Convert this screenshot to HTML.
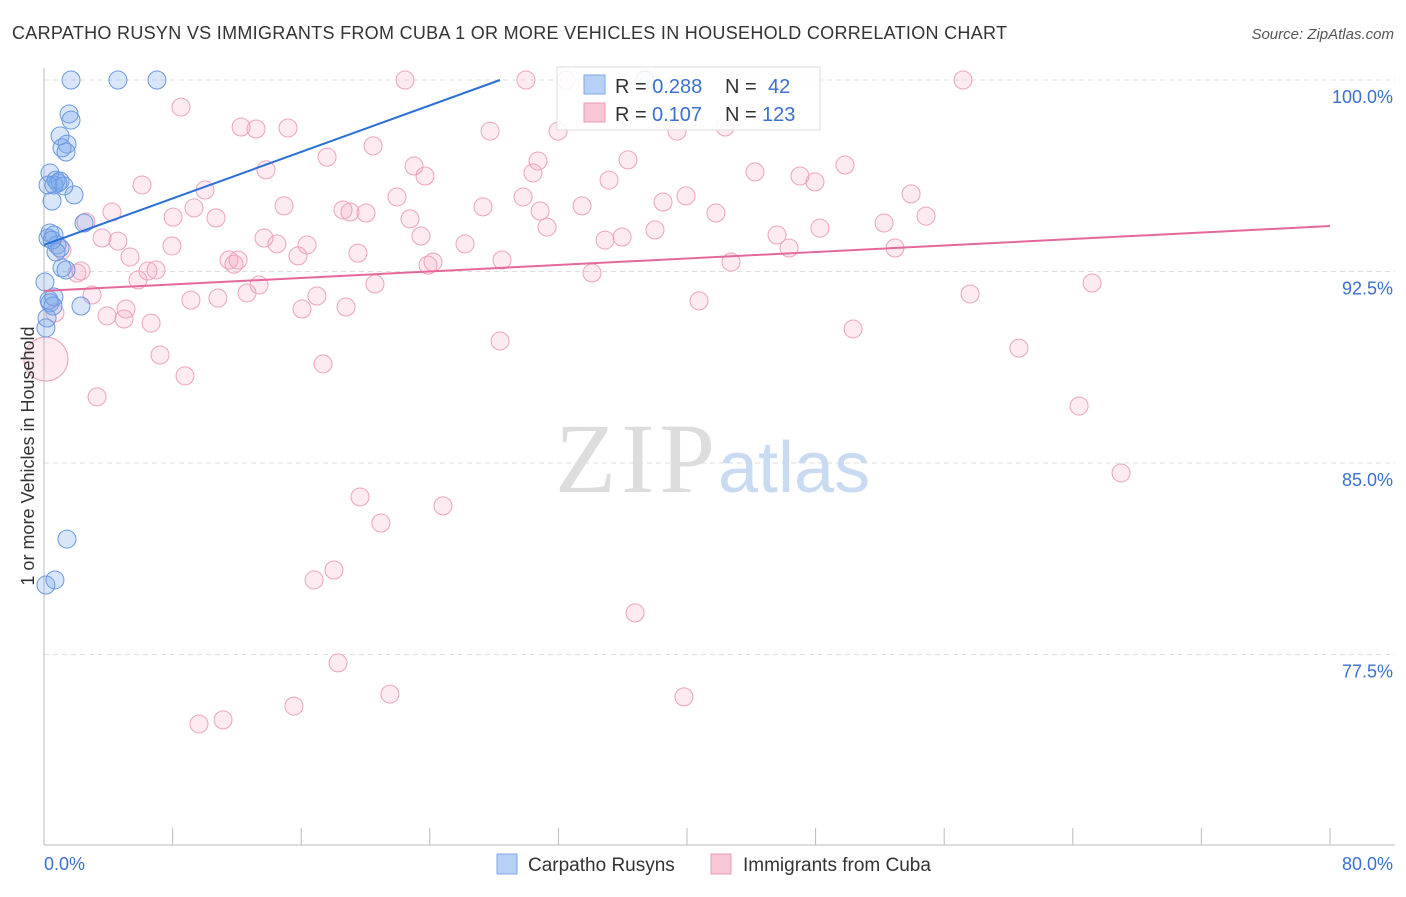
<!DOCTYPE html>
<html><head><meta charset="utf-8"><style>
body{margin:0;background:#fff;font-family:"Liberation Sans",sans-serif;}
</style></head><body>
<svg width="1406" height="892" xmlns="http://www.w3.org/2000/svg" style="font-family:'Liberation Sans',sans-serif">
<text x="12" y="39" font-size="18" fill="#333" textLength="995">CARPATHO RUSYN VS IMMIGRANTS FROM CUBA 1 OR MORE VEHICLES IN HOUSEHOLD CORRELATION CHART</text>
<text x="1394" y="39" font-size="15" fill="#555" font-style="italic" text-anchor="end">Source: ZipAtlas.com</text>
<g id="grid"></g>
<text x="555" y="492" font-size="100" fill="#ddd" font-family="Liberation Serif,serif" textLength="160">ZIP</text>
<text x="718" y="492" font-size="72" fill="#c8dbf2">atlas</text>
<g id="pts"></g>
<g id="lines"></g>
<text transform="translate(34,456) rotate(-90)" font-size="18" fill="#333" text-anchor="middle">1 or more Vehicles in Household</text>
<g>
<rect x="557" y="67" width="263" height="63" fill="rgba(255,255,255,0.85)" stroke="#ddd"/>
<rect x="584" y="75" width="21" height="19" fill="#b7d0f5" stroke="#7da6e6"/>
<rect x="584" y="103" width="21" height="19" fill="#f9c6d6" stroke="#eb9ab3"/>
<text x="615" y="93" font-size="20" fill="#333">R = <tspan fill="#3a70d0">0.288</tspan><tspan x="725">N =</tspan><tspan x="768" fill="#3a70d0">42</tspan></text>
<text x="615" y="121" font-size="20" fill="#333">R = <tspan fill="#3a70d0" x="652">0.107</tspan><tspan x="725">N =</tspan><tspan x="762" fill="#3a70d0">123</tspan></text>
</g>
<g>
<rect x="497" y="854" width="20" height="20" fill="#b7d0f5" stroke="#7da6e6"/>
<text x="528" y="871" font-size="19" fill="#333">Carpatho Rusyns</text>
<rect x="711" y="854" width="20" height="20" fill="#f9c6d6" stroke="#eb9ab3"/>
<text x="743" y="871" font-size="19" fill="#333">Immigrants from Cuba</text>
</g>
</svg>
<script>
const blueX=[1.68,4.60,7.03,37.38,1.56,1.68,1.00,1.43,1.12,1.37,0.37,0.75,0.87,0.62,1.00,1.87,0.50,2.49,0.37,0.62,0.25,0.81,1.00,0.75,1.12,1.37,0.31,0.62,0.37,0.56,2.30,0.19,0.12,0.06,1.43,0.68,0.12,0.50,0.25,1.24];
const blueY=[100,100,100,100,98.67,98.43,97.81,97.49,97.34,97.18,96.36,96.08,95.97,95.89,96.04,95.50,95.26,94.40,94.01,93.93,93.81,93.54,93.42,93.26,92.64,92.56,91.38,91.50,91.27,91.15,91.15,90.68,90.29,92.09,82.02,80.42,80.22,93.73,95.89,95.85];
const pinkX=[22.46,29.98,32.47,57.17,8.52,12.26,13.19,15.18,27.75,31.98,39.38,42.37,20.47,17.61,30.73,36.33,49.83,13.81,23.02,23.70,30.42,44.23,47.03,47.96,6.10,35.15,10.02,53.94,21.96,39.94,14.93,9.33,18.60,19.04,20.03,27.31,29.80,33.47,38.51,30.86,41.80,54.87,4.23,8.03,10.70,22.77,52.26,2.61,31.29,48.27,38.01,23.45,45.60,13.69,3.61,4.60,34.90,35.96,14.49,16.36,46.35,26.19,7.96,19.53,52.94,1.12,5.35,15.80,11.51,12.07,11.82,28.49,24.20,23.89,42.74,2.30,6.47,6.97,2.05,5.85,13.38,20.59,34.09,65.20,2.99,16.98,9.14,10.82,12.63,57.61,40.75,5.10,18.79,16.05,0.68,3.92,4.98,6.66,50.33,28.37,60.65,7.22,17.36,8.77,3.30,64.39,67.00,19.66,24.82,20.96,18.04,16.80,36.77,18.29,21.52,39.81,15.55,11.14,9.64,0.12];
const pinkY=[100,100,100,100,98.94,98.16,98.08,98.12,98.00,98.00,98.00,98.16,97.42,96.98,96.83,96.87,96.67,96.48,96.63,96.24,96.36,96.40,96.24,96.01,95.89,96.08,95.69,95.54,95.42,95.46,95.07,94.99,94.91,94.83,94.79,95.03,95.42,95.07,95.22,94.87,94.79,94.67,94.83,94.63,94.60,94.56,94.40,94.44,94.24,94.20,94.13,93.89,93.93,93.81,93.81,93.69,93.73,93.85,93.58,93.54,93.42,93.58,93.50,93.22,93.42,93.34,93.07,93.11,92.95,92.95,92.79,92.95,92.87,92.75,92.87,92.52,92.52,92.56,92.44,92.17,91.97,92.01,92.44,92.05,91.58,91.54,91.38,91.46,91.66,91.62,91.35,91.03,91.11,91.03,90.88,90.76,90.64,90.48,90.25,89.78,89.50,89.23,88.88,88.41,87.59,87.23,84.61,83.67,83.32,82.65,80.81,80.42,79.13,77.17,75.95,75.84,75.48,74.94,74.78,89.07];
const blueTrendX=[0,28.37], blueTrendY=[93.54,100];
const pinkTrendX=[0,80], pinkTrendY=[91.74,94.28];
const yTicks=[100,92.5,85,77.5], yTickLabels=["100.0%","92.5%","85.0%","77.5%"];
const xTicks=[0,8,16,24,32,40,48,56,64,72,80];
const NS="http://www.w3.org/2000/svg";
const sx=v=>44+v/80*1286, sy=v=>80+(100-v)/7.5*191.5;
function mk(t,a,p){const e=document.createElementNS(NS,t);for(const k in a)e.setAttribute(k,a[k]);p.appendChild(e);return e;}
const g=document.getElementById('grid');
yTicks.forEach((t,i)=>{
 const l=mk('line',{x1:44,x2:1395,y1:sy(t),y2:sy(t),stroke:'#ddd','stroke-dasharray':'5,4'},g);
 
 
 const tx=mk('text',{x:1393,y:sy(t)+23,'font-size':18,fill:'#3a70d0','text-anchor':'end'},g);
 tx.textContent=yTickLabels[i];
 
 
});
const ax=mk('line',{x1:44,x2:44,y1:68,y2:845,stroke:'#bbb'},g);


const bx=mk('line',{x1:44,x2:1395,y1:845,y2:845,stroke:'#bbb'},g);


xTicks.forEach(t=>{
 const l=mk('line',{x1:sx(t),x2:sx(t),y1:828,y2:845,stroke:'#bbb'},g);
 
 
});
const x0=mk('text',{x:44,y:870,'font-size':18,fill:'#3a70d0'},g);x0.textContent='0.0%';


const x1=mk('text',{x:1393,y:870,'font-size':18,fill:'#3a70d0','text-anchor':'end'},g);x1.textContent='80.0%';


const p=document.getElementById('pts');
pinkX.forEach((x,i)=>{
 const big=i===pinkX.length-1;
 const c=mk('circle',{cx:sx(x),cy:sy(pinkY[i]),r:big?22:9,fill:'rgba(244,165,190,0.22)',stroke:'#eea3ba','stroke-width':1},p);
 
 
});
blueX.forEach((x,i)=>{
 const c=mk('circle',{cx:sx(x),cy:sy(blueY[i]),r:9,fill:'rgba(120,165,235,0.28)',stroke:'#6a98e2','stroke-width':1},p);
 
 
});
const L=document.getElementById('lines');
const bl=mk('line',{x1:sx(blueTrendX[0]),y1:sy(blueTrendY[0]),x2:sx(blueTrendX[1]),y2:sy(blueTrendY[1]),stroke:'#2a6fd6','stroke-width':2},L);


const pl=mk('line',{x1:sx(pinkTrendX[0]),y1:sy(pinkTrendY[0]),x2:sx(pinkTrendX[1]),y2:sy(pinkTrendY[1]),stroke:'#e4699a','stroke-width':2},L);


</script>
</body></html>
